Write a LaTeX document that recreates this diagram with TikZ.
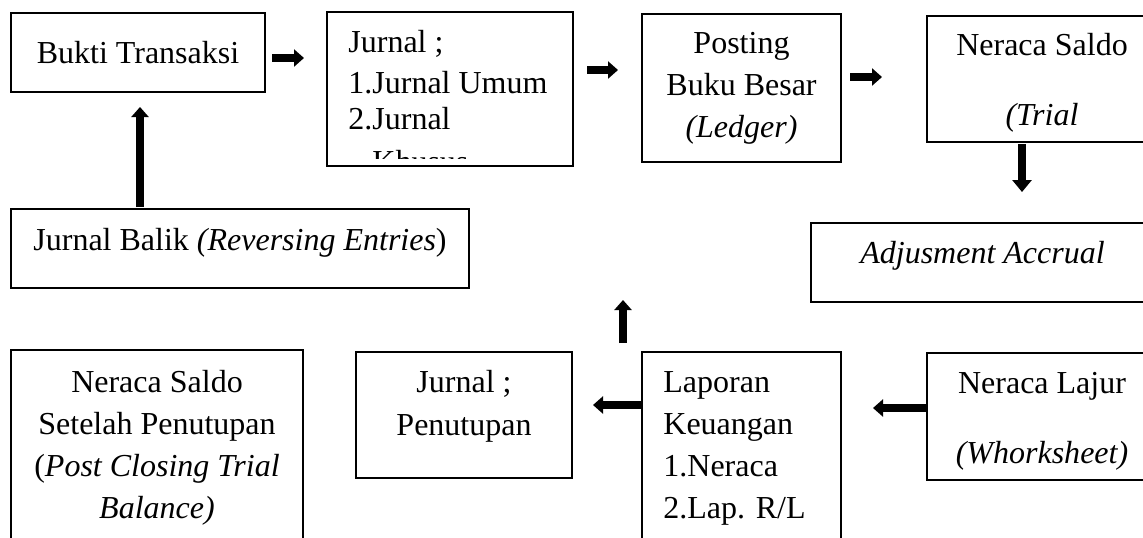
\documentclass[tikz,border=0pt]{standalone}
\usepackage{fontspec}
\setmainfont{Liberation Serif}
\usetikzlibrary{arrows.meta}

\tikzset{
  kotak/.style={draw, line width=1.2pt, inner sep=0pt, outer sep=0pt},
  isi/.style={font=\fontsize{16}{21}\selectfont, inner sep=0pt, anchor=base, align=center},
  isikiri/.style={isi, anchor=base west, align=left},
  panah/.style={line width=4pt, -{Triangle[length=5pt,width=8.5pt]}}
}

\begin{document}
\begin{tikzpicture}[x=0.5pt, y=-0.5pt]
    \useasboundingbox (0,0) rectangle (1143,537);
    \clip (0,0) rectangle (1143,537);
    % baris atas (base = baris terakhir)
    \node[kotak, minimum width=127pt, minimum height=39.5pt] (bukti) at (138,52.5) {};
    \node[isi] (bukti-t) at ([yshift=-25pt]bukti.north) {Bukti Transaksi};
    \node[kotak, minimum width=123pt, minimum height=77pt] (jurnal) at (450,89) {};
    \begin{scope}
        \clip (328,13) rectangle (572,158);
        \node[isikiri, font=\fontsize{16}{18}\selectfont] (jurnal-t) at ([xshift=10.5pt,yshift=-80pt]jurnal.north west)
            {Jurnal ;\\[2.3pt]1.Jurnal Umum\\2.Jurnal\\[3.4pt]\phantom{2.}Khusus};
    \end{scope}
    \node[kotak, minimum width=99.5pt, minimum height=74pt] (posting) at (741.5,88) {};
    \node[isi] (posting-t) at ([yshift=-61.5pt]posting.north) {Posting\\Buku Besar\\\textit{(Ledger)}};
    \node[kotak, minimum width=115pt, minimum height=63pt] (saldo) at (1042,79) {};
    \node[isi] (saldo-t) at ([yshift=-54.5pt]saldo.north) {Neraca Saldo\\[14pt]\textit{(Trial}};
    % baris tengah
    \node[kotak, minimum width=229pt, minimum height=39.5pt] (balik) at (240,248.5) {};
    \node[isikiri] (balik-t) at ([xshift=11pt,yshift=-20.5pt]balik.north west) {Jurnal Balik \textit{(Reversing Entries})};
    \node[kotak, minimum width=171.5pt, minimum height=39.5pt] (adjus) at (982.5,262.5) {};
    \node[isi] (adjus-t) at ([yshift=-20pt]adjus.north) {\textit{Adjusment Accrual}};
    % baris bawah
    \node[kotak, minimum width=146pt, minimum height=105pt] (setelah) at (157,455) {};
    \node[isi] (setelah-t) at ([yshift=-84pt]setelah.north) {Neraca Saldo\\Setelah Penutupan\\(\textit{Post Closing Trial}\\\textit{Balance)}};
    \node[kotak, minimum width=108pt, minimum height=63pt] (tutup) at (464,415) {};
    \node[isi, font=\fontsize{16}{21.5}\selectfont] (tutup-t) at ([yshift=-41.5pt]tutup.north) {Jurnal ;\\Penutupan};
    \node[kotak, minimum width=99.5pt, minimum height=109pt] (laporan) at (741.5,461) {};
    \node[isikiri] (laporan-t) at ([xshift=10.5pt,yshift=-83pt]laporan.north west) {Laporan\\Keuangan\\1.Neraca\\2.Lap. R/L};
    \node[kotak, minimum width=115pt, minimum height=63.5pt] (lajur) at (1042,416.5) {};
    \node[isi] (lajur-t) at ([yshift=-55pt]lajur.north) {Neraca Lajur\\[14pt]\textit{(Whorksheet)}};
    % panah
    \draw[panah, shorten <=3.5pt, shorten >=11.5pt] ([yshift=-2.75pt]bukti.east) -- ([yshift=-2.75pt]bukti.east -| jurnal.west);
    \draw[panah, shorten <=7pt, shorten >=12pt] ([yshift=9.5pt]jurnal.east) -- ([yshift=9.5pt]jurnal.east -| posting.west);
    \draw[panah, shorten <=4.5pt, shorten >=22.5pt] ([yshift=5.5pt]posting.east) -- ([yshift=5.5pt]posting.east -| saldo.west);
    \draw[panah, -{Triangle[length=6pt,width=9.5pt]}, shorten <=1pt, shorten >=15.5pt] ([xshift=-10pt]saldo.south) -- ([xshift=-10pt]saldo.south |- adjus.north);
    \draw[panah, shorten >=16pt] ([yshift=4.25pt]lajur.west) -- ([yshift=4.25pt]lajur.west -| laporan.east);
    \draw[panah, shorten >=10.5pt] ([yshift=-26.5pt]laporan.north west) -- ([yshift=-26.5pt]laporan.north west -| tutup.east);
    \draw[panah] ([xshift=-9.5pt,yshift=4.5pt]laporan.north west) -- ++(0,-43);
    \draw[panah, shorten <=1pt, shorten >=7.5pt] ([xshift=-50pt]balik.north) -- ([xshift=-50pt]balik.north |- bukti.south);
\end{tikzpicture}
\end{document}
